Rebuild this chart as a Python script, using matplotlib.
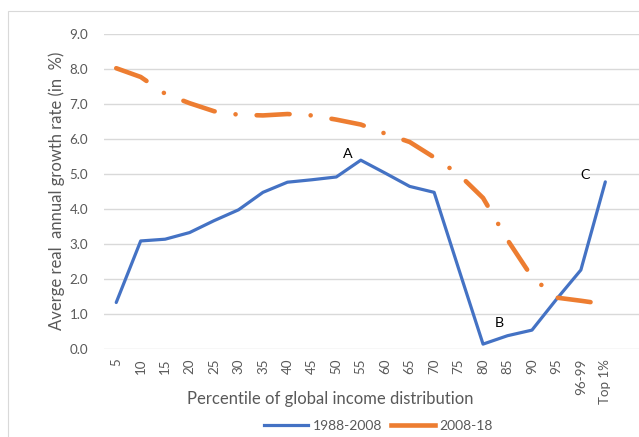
import matplotlib
matplotlib.use("Agg")
import matplotlib.pyplot as plt
from matplotlib.lines import Line2D
from matplotlib.patches import Rectangle

categories = ["5", "10", "15", "20", "25", "30", "35", "40", "45", "50", "55", "60",
              "65", "70", "75", "80", "85", "90", "95", "96-99", "Top 1%"]
growth_1988_2008 = [1.33, 3.09, 3.14, 3.33, 3.67, 3.98, 4.48, 4.77, 4.84, 4.92, 5.40,
                    5.03, 4.65, 4.48, 2.30, 0.14, 0.38, 0.54, 1.42, 2.26, 4.78]
growth_2008_18 = [8.03, 7.78, 7.30, 7.03, 6.80, 6.70, 6.68, 6.72, 6.68, 6.56, 6.42,
                  6.16, 5.92, 5.48, 5.00, 4.32, 3.12, 2.06, 1.47, 1.38, 1.28]
labels_series = ["1988-2008", "2008-18"]
annotations = [("A", 9.47, 5.58), ("B", 15.68, 0.75), ("C", 19.16, 4.97)]
yticks = [0, 1, 2, 3, 4, 5, 6, 7, 8, 9]

W, H = 639, 437
plt.rcParams['font.family'] = ['Lato', 'DejaVu Sans']
fig = plt.figure(figsize=(W / 100, H / 100), dpi=100)

BLUE = "#4472C4"
ORANGE = "#ED7D31"
GRAY = "#595959"
GRID = "#D9D9D9"

# chart-area frame (only its top and left edges fall inside the picture)
fig.patches.append(Rectangle((8 / W, -0.1), 1.2, 1 - 11 / H + 0.1,
                             transform=fig.transFigure, fill=False,
                             edgecolor=GRID, linewidth=0.8))

left, right = 104, 642
top, bottom = 34.3, 349
ax = fig.add_axes([left / W, 1 - bottom / H, (right - left) / W, (bottom - top) / H])
ax.set_facecolor("none")

x = list(range(len(categories)))
ax.plot(x, growth_1988_2008, color=BLUE, linewidth=2.3, solid_joinstyle="round",
        solid_capstyle="round", zorder=3)
ax.plot(x, growth_2008_18, color=ORANGE, linewidth=3.3,
        linestyle=(0, (7.2, 4.6, 0.01, 4.6)), dash_capstyle="round",
        dash_joinstyle="round", zorder=3)

ax.set_xlim(-0.5, len(categories) + 0.5)
ax.set_ylim(0, 9)
ax.set_yticks(yticks)
ax.set_yticklabels([f"{v:.1f}" for v in yticks])
ax.set_xticks(x)
ax.set_xticklabels(categories, rotation=90)
ax.tick_params(axis="both", length=0, colors=GRAY, labelsize=9.6)
ax.tick_params(axis="y", pad=11.5)
ax.tick_params(axis="x", pad=7)
ax.grid(axis="y", color=GRID, linewidth=1.0)
ax.set_axisbelow(True)
for s in ax.spines.values():
    s.set_visible(False)

for t, xa, ya in annotations:
    ax.text(xa, ya, t, fontsize=10.3, color="black", ha="center", va="center")

fig.text(57 / W, 1 - 191 / H, "Averge real  annual growth rate (in  %)", rotation=90,
         ha="center", va="center", color=GRAY, fontsize=12)
fig.text(330 / W, 1 - 399 / H, "Percentile of global income distribution",
         ha="center", va="center", color=GRAY, fontsize=12)

handles = [Line2D([0], [0], color=BLUE, linewidth=2.3),
           Line2D([0], [0], color=ORANGE, linewidth=3.3)]
fig.legend(handles, labels_series, loc="center", bbox_to_anchor=(378.5 / W, 1 - 426 / H),
           ncol=2, frameon=False, fontsize=10, handlelength=3.15,
           handletextpad=0.35, columnspacing=0.65, labelcolor=GRAY,
           borderpad=0.2)

fig.savefig("out.png", dpi=100)
